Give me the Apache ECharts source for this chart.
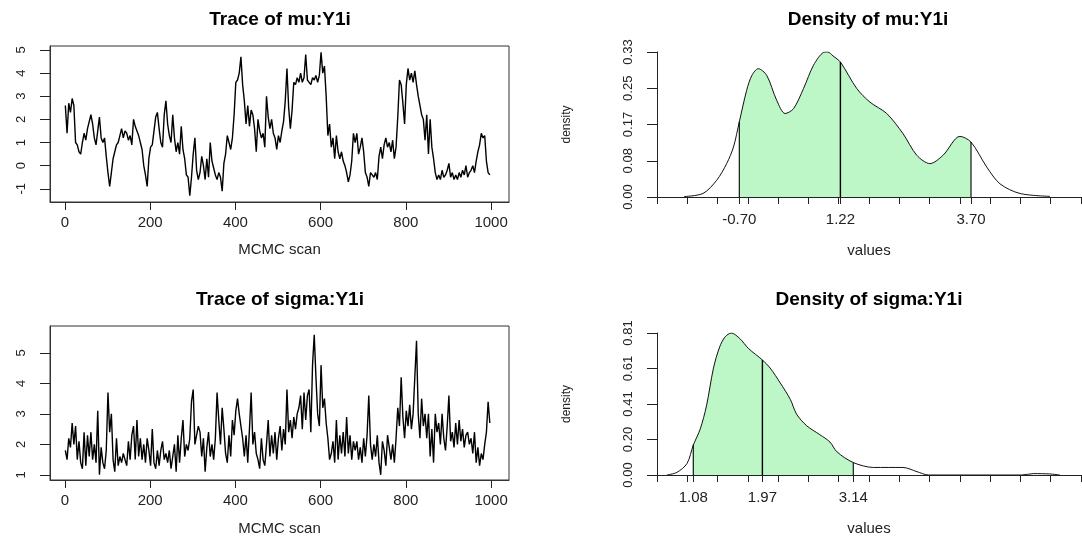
<!DOCTYPE html>
<html>
<head>
<meta charset="utf-8">
<title>mu / sigma</title>
<script src="https://cdn.jsdelivr.net/npm/echarts@6/dist/echarts.min.js"></script>
<style>
  html, body { margin: 0; padding: 0; background: #fff; }
  #main { width: 1082px; height: 537px; }
</style>
</head>
<body>
<div id="main"></div>
<script>
// ---- data ----
// trace samples, one every 4 scans (scan 1, 5, 9, ...)
var traceStep = 4;
var muTrace = [
  2.6, 1.4, 2.7, 2.3, 2.9, 2.6, 1.0, 0.9, 0.6, 0.5,
  1.0, 1.4, 1.1, 1.6, 1.9, 2.2, 1.8, 1.2, 0.9, 1.5,
  2.1, 1.2, 1.0, 1.2, 0.4, -0.3, -0.9, -0.3, 0.3, 0.6,
  0.9, 1.0, 1.3, 1.6, 1.2, 1.5, 1.4, 1.1, 1.3, 0.9,
  2.0, 1.7, 1.5, 1.3, 1.0, 0.7, 0.0, -0.4, -0.9, 0.3,
  0.8, 0.9, 1.5, 2.1, 2.3, 1.6, 1.0, 0.8, 2.2, 2.8,
  1.8, 1.3, 1.0, 2.2, 1.2, 0.6, 1.0, 0.5, 1.7, 0.7,
  0.3, -0.4, -0.5, -1.3, -0.5, 0.5, 1.2, -0.2, -0.6, -0.3,
  0.4, 0.0, -0.6, 0.3, -0.5, 1.0, 0.2, -0.1, -0.4, -0.6,
  -0.3, -0.5, -1.1, 0.1, 0.5, 1.3, 1.0, 0.7, 1.2, 2.2,
  3.6, 3.7, 4.0, 4.7, 3.5, 2.8, 1.8, 2.6, 1.7, 2.4,
  2.2, 1.6, 0.6, 2.0, 1.5, 1.2, 1.4, 0.8, 3.0, 2.1,
  1.6, 2.0, 1.4, 1.2, 0.7, 1.3, 1.0, 1.5, 1.9, 2.8,
  4.2, 2.5, 1.6, 2.4, 3.6, 3.5, 3.8, 3.6, 4.0, 3.6,
  3.8, 4.8, 3.7, 3.6, 3.5, 3.8, 3.7, 3.9, 3.6, 3.9,
  4.9, 4.0, 4.3, 3.0, 1.3, 1.8, 0.8, 1.2, 0.3, 1.3,
  0.6, 0.3, 0.6, 0.2, 0.0, -0.3, -0.7, -0.4, 0.2, 1.4,
  1.0, 1.4, 0.5, 0.8, 1.2, 0.6, -0.3, -0.5, -0.9, -0.3,
  -0.4, -0.5, -0.3, -0.6, 0.4, 0.8, 0.3, 0.9, 1.2, 0.8,
  1.0, 0.6, 1.1, 0.3, 0.8, 2.1, 3.7, 3.5, 2.7, 1.8,
  3.5, 4.2, 3.7, 4.0, 3.6, 4.1, 3.5, 3.0, 2.6, 2.2,
  2.0, 1.1, 2.2, 0.5, 2.0, 0.8, 0.3, -0.3, -0.6, -0.4,
  -0.6, -0.2, -0.5, -0.4, -0.2, 0.1, -0.5, -0.3, -0.6, -0.4,
  -0.6, -0.3, -0.5, -0.2, -0.4, 0.0, -0.5, -0.3, -0.2, 0.0,
  -0.3, 0.2, 0.6, 0.9, 1.4, 1.2, 1.3, 0.2, -0.3, -0.4
];
var sigmaTrace = [
  1.8, 1.5, 2.2, 1.9, 2.7, 2.0, 2.6, 1.5, 2.1, 1.4,
  1.2, 2.4, 1.3, 2.3, 1.6, 2.4, 1.5, 2.0, 1.4, 3.1,
  1.0, 1.9, 1.4, 1.2, 1.8, 3.7, 2.4, 3.0, 1.5, 1.1,
  2.2, 1.3, 1.6, 1.4, 1.7, 1.5, 1.3, 2.1, 1.5, 2.3,
  2.6, 1.5, 2.8, 1.6, 2.2, 1.5, 2.0, 1.4, 2.2, 1.8,
  1.3, 2.5, 1.4, 1.2, 1.8, 1.3, 1.8, 2.1, 1.5, 1.7,
  1.4, 1.8, 1.2, 1.6, 2.0, 1.1, 2.3, 1.4, 2.2, 2.8,
  1.6, 2.0, 1.8, 2.2, 3.4, 3.8, 2.0, 2.3, 2.6, 2.4,
  1.6, 2.2, 1.1, 1.9, 2.4, 1.6, 2.0, 1.5, 2.2, 3.7,
  2.8, 2.0, 3.2, 2.5, 1.7, 1.4, 2.3, 1.6, 2.8, 2.3,
  3.1, 3.5, 3.0, 2.6, 2.2, 1.6, 2.3, 1.4, 2.5, 3.7,
  2.0, 2.4, 1.7, 1.5, 1.2, 2.2, 1.5, 1.3, 2.0, 2.8,
  1.6, 2.3, 1.7, 2.4, 1.5, 2.2, 2.6, 1.8, 2.5, 2.0,
  3.8, 2.4, 2.8, 2.2, 2.9, 2.5, 3.0, 3.2, 3.6, 2.5,
  3.7, 2.8, 3.6, 3.8, 2.4, 4.6, 5.6, 4.2, 3.0, 2.6,
  4.6, 3.2, 3.5, 2.7, 2.2, 1.5, 1.7, 2.1, 1.4, 2.8,
  1.5, 2.3, 1.7, 2.4, 1.6, 2.9, 1.7, 2.3, 1.5, 2.1,
  1.8, 2.1, 1.5, 1.9, 1.4, 2.2, 1.6, 2.3, 3.6, 2.0,
  1.5, 2.0, 1.6, 2.3, 1.4, 1.0, 2.1, 1.8, 1.3, 2.3,
  1.9, 1.5, 2.0, 1.4, 2.2, 3.2, 2.6, 4.2, 2.9, 2.2,
  3.1, 2.6, 3.3, 2.5, 3.0, 4.2, 5.4, 3.0, 2.2, 3.5,
  2.6, 3.0, 2.2, 3.0, 1.6, 2.5, 1.4, 3.0, 2.4, 2.7,
  2.0, 3.0, 2.2, 1.8, 2.6, 3.6, 2.1, 2.4, 1.9, 2.7,
  2.0, 2.8, 2.1, 2.5, 1.9, 2.3, 2.4, 2.0, 2.2, 1.7,
  2.4, 1.4, 1.9, 1.3, 1.7, 1.5, 2.0, 2.4, 3.4, 2.7
];

// density curves
var muDensX = [-1.75, -1.39, -1.13, -0.94, -0.81, -0.70, -0.56, -0.46, -0.34, -0.18, 0.01, 0.17, 0.33, 0.52, 0.71, 0.90, 0.98, 1.08, 1.22, 1.53, 1.78, 2.10, 2.41, 2.67, 2.92, 3.17, 3.49, 3.70, 4.00, 4.25, 4.63, 5.20];
var muDensY = [0.001, 0.008, 0.038, 0.076, 0.114, 0.171, 0.243, 0.277, 0.292, 0.277, 0.220, 0.190, 0.201, 0.247, 0.300, 0.329, 0.330, 0.321, 0.307, 0.247, 0.216, 0.190, 0.144, 0.095, 0.076, 0.095, 0.138, 0.125, 0.068, 0.030, 0.008, 0.0015];
var muLines = [-0.70, 1.22, 3.70];        // lower, median, upper
var muLineTops = [0.171, 0.307, 0.125];

var sgDensX = [0.74, 0.87, 1.00, 1.08, 1.17, 1.25, 1.34, 1.42, 1.49, 1.57, 1.68, 1.79, 1.97, 2.07, 2.20, 2.33, 2.41, 2.54, 2.71, 2.84, 2.93, 3.14, 3.40, 3.78, 3.96, 4.11, 5.00, 5.31, 5.46, 5.67, 5.80];
var sgDensY = [0.000, 0.015, 0.066, 0.170, 0.263, 0.394, 0.610, 0.731, 0.788, 0.810, 0.778, 0.722, 0.656, 0.610, 0.525, 0.431, 0.347, 0.281, 0.230, 0.188, 0.132, 0.071, 0.043, 0.043, 0.019, 0.000, 0.000, 0.000, 0.008, 0.006, 0.000];
var sgLines = [1.08, 1.97, 3.14];
var sgLineTops = [0.172, 0.656, 0.071];

// ticks
var traceTicksX = [0, 200, 400, 600, 800, 1000];
var muTraceTicksY = [-1, 0, 1, 2, 3, 4, 5];
var sgTraceTicksY = [1, 2, 3, 4, 5];
var muDensTicksY = [0, 0.0825, 0.165, 0.2475, 0.33];
var muDensLabelsY = ['0.00', '0.08', '0.17', '0.25', '0.33'];
var sgDensTicksY = [0, 0.2025, 0.405, 0.6075, 0.81];
var sgDensLabelsY = ['0.00', '0.20', '0.41', '0.61', '0.81'];
var muDensTicksX = [-2.263, -1.688, -1.113, -0.538, 0.037, 0.613, 1.188, 1.763, 2.338, 2.913, 3.488, 4.063, 4.639, 5.214, 5.789];
var sgDensTicksX = [0.613, 1.003, 1.393, 1.783, 2.173, 2.563, 2.952, 3.342, 3.732, 4.122, 4.512, 4.902, 5.292, 5.682, 6.072];

// ---- chart ----
var chart = echarts.init(document.getElementById('main'));
var FONT = 'Liberation Sans, Arial, sans-serif';

function tracePoints(vals) {
  return vals.map(function(v, i) { return [1 + i * traceStep, v]; });
}
function pairs(xs, ys) {
  return xs.map(function(x, i) { return [x, ys[i]]; });
}
function between(xs, ys, lo, hi) {
  var out = [];
  for (var i = 0; i < xs.length; i++) {
    if (xs[i] >= lo - 1e-9 && xs[i] <= hi + 1e-9) out.push([xs[i], ys[i]]);
  }
  return out;
}
function labelFrom(ticks, labels) {
  return function(v) {
    for (var i = 0; i < ticks.length; i++) {
      if (Math.abs(ticks[i] - v) < 1e-6) return labels[i];
    }
    return '';
  };
}

var tickStyle = { color: '#222', width: 1 };
var labelStyle = { color: '#222', fontSize: 15, fontFamily: FONT };
var ylabelStyle = { color: '#222', fontSize: 13, fontFamily: FONT };
var nameStyle = { color: '#222', fontSize: 15, fontFamily: FONT };

function traceX(grid, gap) {
  return {
    type: 'value', gridIndex: grid, min: -35, max: 1042,
    axisLine: { show: true, onZero: false, lineStyle: { color: '#333', width: 1 } },
    splitLine: { show: false },
    axisTick: { show: true, inside: false, customValues: traceTicksX, length: 8, lineStyle: tickStyle },
    axisLabel: Object.assign({
      customValues: traceTicksX, margin: 13,
      formatter: function(v) { return String(v); }
    }, labelStyle),
    name: 'MCMC scan', nameLocation: 'middle', nameGap: gap, nameTextStyle: nameStyle
  };
}
function traceY(grid, min, max, ticks) {
  return {
    type: 'value', gridIndex: grid, min: min, max: max,
    axisLine: { show: true, onZero: false, lineStyle: { color: '#333', width: 1 } },
    splitLine: { show: false },
    axisTick: { show: true, inside: false, customValues: ticks, length: 10, lineStyle: tickStyle },
    axisLabel: Object.assign({
      customValues: ticks, rotate: 90, margin: 22,
      formatter: function(v) { return String(v); }
    }, ylabelStyle)
  };
}
function densX(grid, min, max, ticks, labels, gap) {
  return {
    type: 'value', gridIndex: grid, min: min, max: max,
    axisLine: { show: true, onZero: false, lineStyle: { color: '#222', width: 1 } },
    splitLine: { show: false },
    axisTick: { show: true, customValues: ticks.concat(labels), length: 7, lineStyle: tickStyle },
    axisLabel: Object.assign({
      customValues: labels, margin: 15,
      formatter: function(v) { return v.toFixed(2); }
    }, labelStyle),
    name: 'values', nameLocation: 'middle', nameGap: 46, nameTextStyle: nameStyle
  };
}
function densY(grid, max, ticks, labels) {
  return {
    type: 'value', gridIndex: grid, min: 0, max: max,
    axisLine: { show: true, onZero: false, lineStyle: { color: '#222', width: 1 } },
    splitLine: { show: false },
    axisTick: { show: true, customValues: ticks, length: 10, lineStyle: tickStyle },
    axisLabel: Object.assign({
      customValues: ticks, rotate: 90, margin: 22, formatter: labelFrom(ticks, labels)
    }, ylabelStyle),
    name: 'density', nameLocation: 'middle', nameRotate: 90, nameGap: 84,
    nameTextStyle: { color: '#222', fontSize: 12, fontFamily: FONT }
  };
}
function densSeries(idx, xs, ys, lines, tops) {
  var out = [{
    type: 'line', xAxisIndex: idx, yAxisIndex: idx,
    data: between(xs, ys, lines[0], lines[2]),
    smooth: 0.3, symbol: 'none',
    lineStyle: { width: 0, opacity: 0 },
    areaStyle: { color: '#bdf7c8', opacity: 1 },
    z: 1
  }, {
    type: 'line', xAxisIndex: idx, yAxisIndex: idx,
    data: pairs(xs, ys),
    smooth: 0.3, symbol: 'none',
    lineStyle: { color: '#111', width: 1 },
    z: 3
  }];
  lines.forEach(function(x, i) {
    out.push({
      type: 'line', xAxisIndex: idx, yAxisIndex: idx,
      data: [[x, 0], [x, tops[i]]],
      symbol: 'none',
      lineStyle: { color: '#000', width: i === 1 ? 1.4 : 1.1 },
      z: 4
    });
  });
  return out;
}

var titleStyle = { color: '#000', fontSize: 19, fontWeight: 'bold', fontFamily: FONT };

var option = {
  animation: false,
  backgroundColor: '#fff',
  title: [
    { text: 'Trace of mu:Y1i', left: 280, top: 10, textAlign: 'center', padding: 0, textStyle: titleStyle },
    { text: 'Density of mu:Y1i', left: 868, top: 10, textAlign: 'center', padding: 0, textStyle: titleStyle },
    { text: 'Trace of sigma:Y1i', left: 280, top: 290, textAlign: 'center', padding: 0, textStyle: titleStyle },
    { text: 'Density of sigma:Y1i', left: 869, top: 290, textAlign: 'center', padding: 0, textStyle: titleStyle }
  ],
  grid: [
    { left: 50, top: 46, width: 459, height: 156, show: true, borderColor: '#333', borderWidth: 1, backgroundColor: 'transparent' },
    { left: 657, top: 52, width: 424, height: 145 },
    { left: 50, top: 326, width: 459, height: 156, show: true, borderColor: '#333', borderWidth: 1, backgroundColor: 'transparent' },
    { left: 657, top: 333, width: 424, height: 144 }
  ],
  xAxis: [
    traceX(0, 40),
    densX(1, -2.263, 5.789, muDensTicksX, muLines),
    traceX(2, 41),
    densX(3, 0.613, 6.072, sgDensTicksX, sgLines)
  ],
  yAxis: [
    traceY(0, -1.57, 5.17, muTraceTicksY),
    densY(1, 0.33, muDensTicksY, muDensLabelsY),
    traceY(2, 0.83, 5.885, sgTraceTicksY),
    densY(3, 0.81, sgDensTicksY, sgDensLabelsY)
  ],
  series: [
    {
      type: 'line', xAxisIndex: 0, yAxisIndex: 0, data: tracePoints(muTrace),
      symbol: 'none', lineStyle: { color: '#000', width: 1.4 }
    },
    {
      type: 'line', xAxisIndex: 2, yAxisIndex: 2, data: tracePoints(sigmaTrace),
      symbol: 'none', lineStyle: { color: '#000', width: 1.4 }
    }
  ].concat(densSeries(1, muDensX, muDensY, muLines, muLineTops))
   .concat(densSeries(3, sgDensX, sgDensY, sgLines, sgLineTops))
};

chart.setOption(option);
</script>
</body>
</html>
